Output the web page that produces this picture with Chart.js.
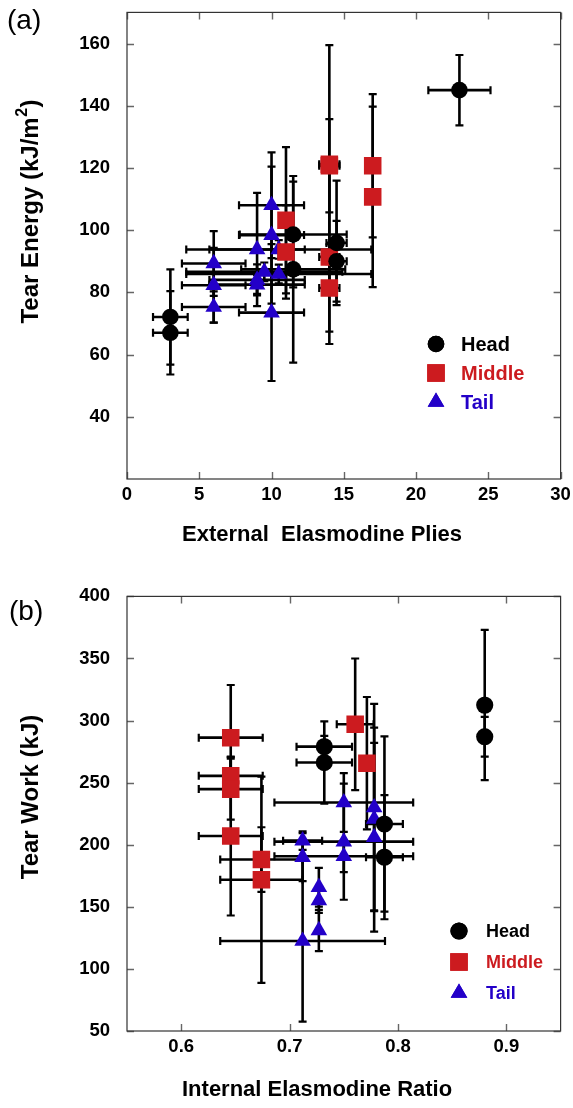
<!DOCTYPE html>
<html>
<head>
<meta charset="utf-8">
<script src="https://cdn.jsdelivr.net/npm/chart.js@4.4.1/dist/chart.umd.min.js"></script>
<style>
  html, body { margin: 0; padding: 0; background: #fff; }
  #wrapA { position: absolute; left: 0; top: 0; width: 573px; height: 584px; }
  #wrapB { position: absolute; left: 0; top: 584px; width: 573px; height: 524px; }
</style>
</head>
<body>
<div id="wrapA"><canvas id="chartA"></canvas></div>
<div id="wrapB"><canvas id="chartB"></canvas></div>
<script>
// ---- panel (a): tear energy vs external elasmodine plies ----
const plyTicks = [0, 5, 10, 15, 20, 25, 30];
const energyTicks = [40, 60, 80, 100, 120, 140, 160];

const headPlies = [3, 3, 11.5, 11.5, 14.5, 14.5, 23];
const headEnergy = [72.1, 67, 98.6, 87.4, 95.9, 90, 145];
const headPliesErr = [1.2, 1.2, 3.7, 3.6, 0.7, 0.7, 2.15];
const headEnergyErr = [15.3, 13.4, 17, 30, 20, 13, 11.3];

const middlePlies = [11, 11, 14, 14, 14, 14, 17, 17];
const middleEnergy = [103.2, 93, 121.2, 120.7, 91.4, 81.4, 120.7, 110.7];
const middlePliesErr = [0, 0, 0.7, 0.7, 0.7, 0.7, 0, 0];
const middleEnergyErr = [23.5, 15, 38.3, 15, 28, 14, 23, 29];

const tailPlies = [10, 10, 10, 9, 10.5, 9.5, 9, 9, 10.5, 6, 6, 6];
const tailEnergy = [108, 98.4, 73.5, 93.8, 93.8, 86.6, 84, 82.5, 85.9, 89.3, 82.3, 75.3];
const tailPliesErr = [2.25, 2.25, 2.25, 3.3, 6.4, 5.4, 3.3, 3.3, 6.4, 2.2, 2.2, 2.2];
const tailEnergyErr = [17, 22, 22, 18.2, 3, 3, 5, 3, 3, 10.4, 12, 5];

// ---- panel (b): tear work vs internal elasmodine ratio ----
const ratioTicks = [0.6, 0.7, 0.8, 0.9];
const workTicks = [50, 100, 150, 200, 250, 300, 350, 400];

const headRatio = [0.88, 0.88, 0.7875, 0.7875, 0.732, 0.732];
const headWork = [312.5, 287, 216.7, 190, 279, 266.2];
const headRatioErr = [0, 0, 0.017, 0.017, 0.0256, 0.0256];
const headWorkErr = [60.5, 16, 70.5, 50, 8.6, 33.2];

const middleRatio = [0.6457, 0.6457, 0.6457, 0.6457, 0.674, 0.674, 0.7605, 0.7713];
const middleWork = [286.25, 255.5, 244.8, 207, 188.1, 171.8, 297, 265.7];
const middleRatioErr = [0.0295, 0.0295, 0.0295, 0.0295, 0.038, 0.038, 0.017, 0];
const middleWorkErr = [42.4, 15, 24.6, 64, 26, 83, 53, 53.3];

const tailRatio = [0.778, 0.778, 0.778, 0.75, 0.75, 0.75, 0.712, 0.712, 0.727, 0.727, 0.727, 0.712];
const tailWork = [230, 220.7, 206, 234, 202.5, 190.7, 203.3, 190, 165.8, 155.2, 131, 122.5];
const tailRatioErr = [0, 0, 0, 0.064, 0.064, 0.064, 0.018, 0, 0, 0, 0, 0.076];
const tailWorkErr = [83.5, 73.6, 76, 23.7, 46.8, 12.8, 7.5, 19.3, 15.6, 10, 16.6, 65];

const FONT = "'Liberation Sans', Arial, Helvetica, sans-serif";
const RED = '#cc1b1f';
const BLUE = '#2300c8';

function points(xs, ys, xe, ye) {
  return xs.map((x, i) => ({ x: x, y: ys[i], xErr: xe[i], yErr: ye[i] }));
}

function series(label, color, style, radius, pts) {
  return {
    label: label,
    data: pts,
    pointStyle: style,
    pointRadius: radius,
    pointHoverRadius: radius,
    backgroundColor: color,
    borderColor: color,
    borderWidth: 0
  };
}

// frame with inward ticks on all four sides
const frame = {
  id: 'frame',
  beforeDatasetsDraw(chart) {
    const { ctx, chartArea: a, scales: { x, y } } = chart;
    ctx.save();
    ctx.strokeStyle = '#666';
    ctx.lineWidth = 1.4;
    ctx.beginPath();
    x.ticks.forEach(t => {
      const px = Math.round(x.getPixelForValue(t.value)) + 0.5;
      ctx.moveTo(px, a.bottom); ctx.lineTo(px, a.bottom - 7);
      ctx.moveTo(px, a.top); ctx.lineTo(px, a.top + 7);
    });
    y.ticks.forEach(t => {
      const py = Math.round(y.getPixelForValue(t.value)) + 0.5;
      ctx.moveTo(a.left, py); ctx.lineTo(a.left + 7, py);
      ctx.moveTo(a.right, py); ctx.lineTo(a.right - 7, py);
    });
    ctx.stroke();
    ctx.strokeStyle = '#333';
    ctx.lineWidth = 1.2;
    ctx.strokeRect(a.left, a.top, a.right - a.left, a.bottom - a.top);
    ctx.restore();
  }
};

// x and y error bars with caps, drawn under the markers
const errorBars = {
  id: 'errorBars',
  beforeDatasetsDraw(chart) {
    const { ctx, scales: { x, y } } = chart;
    ctx.save();
    ctx.strokeStyle = '#000';
    ctx.lineCap = 'butt';
    const cap = 4;
    chart.data.datasets.forEach(ds => {
      ds.data.forEach(p => {
        const px = x.getPixelForValue(p.x);
        const py = y.getPixelForValue(p.y);
        const l = x.getPixelForValue(p.x - p.xErr);
        const r = x.getPixelForValue(p.x + p.xErr);
        const t = y.getPixelForValue(p.y + p.yErr);
        const b = y.getPixelForValue(p.y - p.yErr);
        ctx.beginPath();
        ctx.lineWidth = 2.6;
        if (p.xErr) { ctx.moveTo(l, py); ctx.lineTo(r, py); }
        if (p.yErr) { ctx.moveTo(px, t); ctx.lineTo(px, b); }
        ctx.stroke();
        ctx.beginPath();
        ctx.lineWidth = 2.2;
        if (p.xErr) {
          ctx.moveTo(l, py - cap); ctx.lineTo(l, py + cap);
          ctx.moveTo(r, py - cap); ctx.lineTo(r, py + cap);
        }
        if (p.yErr) {
          ctx.moveTo(px - cap, t); ctx.lineTo(px + cap, t);
          ctx.moveTo(px - cap, b); ctx.lineTo(px + cap, b);
        }
        ctx.stroke();
      });
    });
    ctx.restore();
  }
};

// axis titles, panel letter and the in-plot key
const annotations = {
  id: 'annotations',
  afterDraw(chart, args, o) {
    const ctx = chart.ctx;
    ctx.save();
    ctx.fillStyle = '#000';
    ctx.textBaseline = 'middle';

    ctx.font = 'bold 22px ' + FONT;
    ctx.textAlign = 'left';
    ctx.fillText(o.xTitle, o.xTitleX, o.xTitleY);

    // y title, with an optional raised superscript before the closing bracket
    ctx.save();
    ctx.translate(o.yTitleX, o.yTitleY);
    ctx.rotate(-Math.PI / 2);
    const big = 'bold 24px ' + FONT;
    const small = 'bold 16px ' + FONT;
    ctx.font = big;
    const wMain = ctx.measureText(o.yTitle).width;
    const wEnd = o.yTitleSup ? ctx.measureText(')').width : 0;
    ctx.font = small;
    const wSup = o.yTitleSup ? ctx.measureText(o.yTitleSup).width : 0;
    let cx = -(wMain + wSup + wEnd) / 2;
    ctx.textAlign = 'left';
    ctx.font = big;
    ctx.fillText(o.yTitle, cx, 0);
    if (o.yTitleSup) {
      cx += wMain;
      ctx.font = small;
      ctx.fillText(o.yTitleSup, cx + 0.5, -8);
      cx += wSup + 1;
      ctx.font = big;
      ctx.fillText(')', cx, 0);
    }
    ctx.restore();

    ctx.font = '28px ' + FONT;
    ctx.textAlign = 'left';
    ctx.fillText(o.panel, o.panelX, o.panelY);

    ctx.font = 'bold ' + o.keySize + 'px ' + FONT;
    chart.data.datasets.forEach((ds, i) => {
      const ky = o.keyY + i * o.keyGap;
      ctx.fillStyle = ds.backgroundColor;
      Chart.helpers.drawPoint(ctx, { pointStyle: ds.pointStyle, radius: ds.pointRadius, rotation: 0, borderWidth: 0 }, o.keyX, ky);
      ctx.fill();
      ctx.fillText(ds.label, o.keyTextX, ky + 1);
    });
    ctx.restore();
  }
};

function axis(min, max, tickValues, size, fmt, pad) {
  return {
    type: 'linear',
    min: min,
    max: max,
    grid: { display: false, drawTicks: false },
    border: { display: false },
    afterBuildTicks: s => { s.ticks = tickValues.map(v => ({ value: v })); },
    afterFit: s => {
      if (s.isHorizontal()) { s.height = size; } else { s.width = size; }
      s.paddingTop = 0; s.paddingBottom = 0; s.paddingLeft = 0; s.paddingRight = 0;
    },
    ticks: {
      color: '#000',
      font: { family: FONT, size: 18.5, weight: 'bold' },
      padding: pad,
      autoSkip: false,
      maxRotation: 0,
      callback: fmt
    }
  };
}

function makeChart(id, datasets, scales, top, notes) {
  return new Chart(document.getElementById(id), {
    type: 'scatter',
    data: { datasets: datasets },
    options: {
      responsive: true,
      maintainAspectRatio: false,
      animation: false,
      layout: { padding: { top: top, right: 11, left: 0, bottom: 0 } },
      scales: scales,
      plugins: {
        legend: { display: false },
        tooltip: { enabled: false },
        annotations: notes
      }
    },
    plugins: [frame, errorBars, annotations]
  });
}

makeChart('chartA', [
  series('Head', '#000', 'circle', 8.3, points(headPlies, headEnergy, headPliesErr, headEnergyErr)),
  series('Middle', RED, 'rect', 12.4, points(middlePlies, middleEnergy, middlePliesErr, middleEnergyErr)),
  series('Tail', BLUE, 'triangle', 9.6, points(tailPlies, tailEnergy, tailPliesErr, tailEnergyErr))
], {
  x: axis(0, 30, plyTicks, 105, v => String(v), 5),
  y: axis(20, 170, energyTicks, 127, v => String(v), 17)
}, 12, {
  xTitle: 'External  Elasmodine Plies', xTitleX: 182, xTitleY: 535,
  yTitle: 'Tear Energy (kJ/m', yTitleSup: '2', yTitleX: 31, yTitleY: 212,
  panel: '(a)', panelX: 7, panelY: 21,
  keyX: 436, keyY: 344, keyGap: 29, keyTextX: 461, keySize: 20
});

makeChart('chartB', [
  series('Head', '#000', 'circle', 8.6, points(headRatio, headWork, headRatioErr, headWorkErr)),
  series('Middle', RED, 'rect', 12.4, points(middleRatio, middleWork, middleRatioErr, middleWorkErr)),
  series('Tail', BLUE, 'triangle', 9.6, points(tailRatio, tailWork, tailRatioErr, tailWorkErr))
], {
  x: axis(0.55, 0.95, ratioTicks, 77, v => v.toFixed(1), 5),
  y: axis(50, 400, workTicks, 127, v => String(v), 17)
}, 11, {
  xTitle: 'Internal Elasmodine Ratio', xTitleX: 182, xTitleY: 506,
  yTitle: 'Tear Work (kJ)', yTitleSup: '', yTitleX: 31, yTitleY: 213,
  panel: '(b)', panelX: 9, panelY: 28,
  keyX: 459, keyY: 347, keyGap: 31, keyTextX: 486, keySize: 18
});
</script>
</body>
</html>
